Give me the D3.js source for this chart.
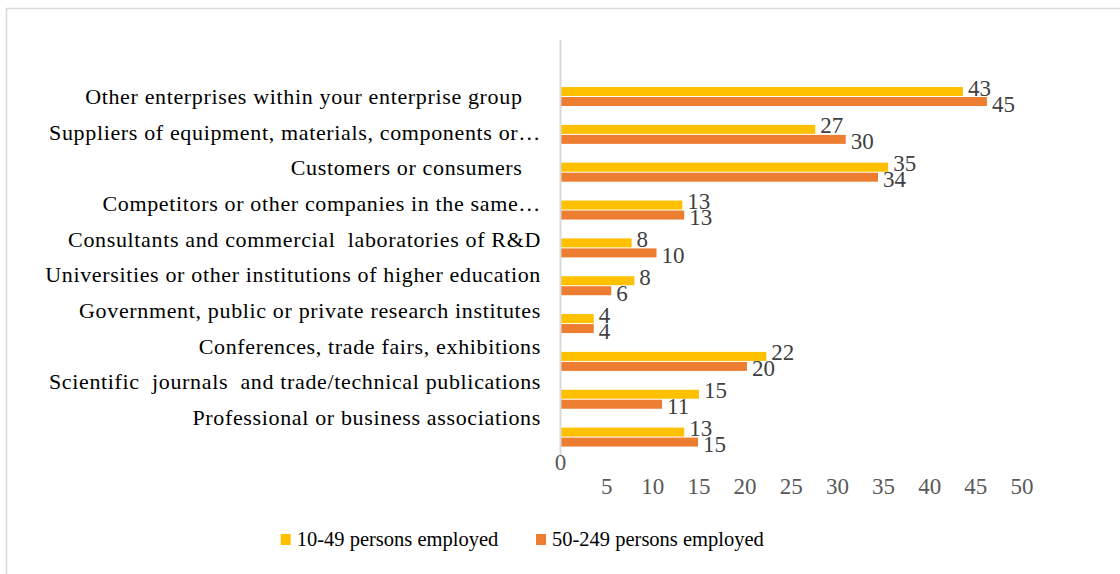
<!DOCTYPE html>
<html>
<head>
<meta charset="utf-8">
<script src="https://cdn.jsdelivr.net/npm/d3@7"></script>
<style>
  body { margin: 0; background: #fff; }
  svg { display: block; }
</style>
</head>
<body>
<div id="chart"></div>
<script>
var categories = [
    "Other enterprises within your enterprise group   ",
    "Suppliers of equipment, materials, components or\u2026",
    "Customers or consumers   ",
    "Competitors or other companies in the same\u2026",
    "Consultants and commercial  laboratories of R&D",
    "Universities or other institutions of higher education",
    "Government, public or private research institutes",
    "Conferences, trade fairs, exhibitions",
    "Scientific  journals  and trade/technical publications",
    "Professional or business associations"
];
// bar lengths as drawn, and the data labels printed beside them
var small = [43.6, 27.6, 35.5, 13.2, 7.7, 8.0, 3.6, 22.3, 15.0, 13.4];
var medium = [46.2, 30.9, 34.4, 13.4, 10.4, 5.5, 3.6, 20.2, 11.0, 14.9];
var smallLabels = [43, 27, 35, 13, 8, 8, 4, 22, 15, 13];
var mediumLabels = [45, 30, 34, 13, 10, 6, 4, 20, 11, 15];
var seriesNames = ["10-49 persons employed", "50-249 persons employed"];
var seriesColors = ["#FFC000", "#ED7D31"];
var xTicks = [0, 5, 10, 15, 20, 25, 30, 35, 40, 45, 50];

var W = 1120, H = 574;
var font = "'Liberation Serif', 'Times New Roman', serif";
var svg = d3.select("#chart").append("svg").attr("width", W).attr("height", H);

// chart border (only top and left edges show inside the frame)
svg.append("rect").attr("x", 6.5).attr("y", 8.5).attr("width", W).attr("height", H)
    .style("fill", "none").style("stroke", "#d9d9d9").style("stroke-width", 1.5);

var x = d3.scaleLinear().domain([0, 50]).range([560.5, 1022]);
var y = d3.scaleBand().domain(d3.range(categories.length)).range([77.6, 456]);
var labelY = d3.scalePoint().domain(d3.range(categories.length)).range([104, 425]);

var barH = 9;
var series = [small, medium];
var labels = [smallLabels, mediumLabels];

series.forEach(function (vals, s) {
    svg.selectAll(".bar" + s).data(vals).enter().append("rect")
        .attr("class", "bar" + s)
        .attr("x", x(0))
        .attr("y", function (d, i) { return y(i) + y.bandwidth() / 2 + (s == 0 ? -barH - 0.5 : 0.5); })
        .attr("width", function (d) { return x(d) - x(0); })
        .attr("height", barH)
        .style("fill", seriesColors[s]);

    svg.selectAll(".val" + s).data(vals).enter().append("text")
        .attr("class", "val" + s)
        .attr("x", function (d) { return x(d) + 5; })
        .attr("y", function (d, i) { return y(i) + y.bandwidth() / 2 + (s == 0 ? -1 : 15); })
        .style("font-family", font)
        .style("font-size", "23px")
        .style("fill", "#404040")
        .text(function (d, i) { return labels[s][i]; });
});

// vertical axis line
svg.append("line").attr("x1", 560.5).attr("x2", 560.5).attr("y1", 40).attr("y2", 455)
    .style("stroke", "#d9d9d9").style("stroke-width", 2);

// category labels
svg.selectAll(".cat").data(categories).enter().append("text")
    .attr("class", "cat")
    .attr("x", 541)
    .attr("y", function (d, i) { return labelY(i); })
    .attr("text-anchor", "end")
    .style("font-family", font)
    .style("font-size", "22px")
    .style("letter-spacing", "0.65px")
    .style("white-space", "pre")
    .style("fill", "#000")
    .text(function (d) { return d; });

// x tick labels (0 sits higher than the rest)
svg.selectAll(".tick").data(xTicks).enter().append("text")
    .attr("class", "tick")
    .attr("x", function (d) { return x(d); })
    .attr("y", function (d) { return d == 0 ? 470 : 494; })
    .attr("text-anchor", "middle")
    .style("font-family", font)
    .style("font-size", "23px")
    .style("fill", "#595959")
    .text(function (d) { return d; });

// legend
var legendX = [280.7, 536];
seriesNames.forEach(function (name, s) {
    svg.append("rect").attr("x", legendX[s]).attr("y", 534).attr("width", 10).attr("height", 11)
        .style("fill", seriesColors[s]);
    svg.append("text").attr("x", legendX[s] + 16).attr("y", 546)
        .style("font-family", font)
        .style("font-size", "20.5px")
        .style("fill", "#000")
        .text(name);
});
</script>
</body>
</html>
